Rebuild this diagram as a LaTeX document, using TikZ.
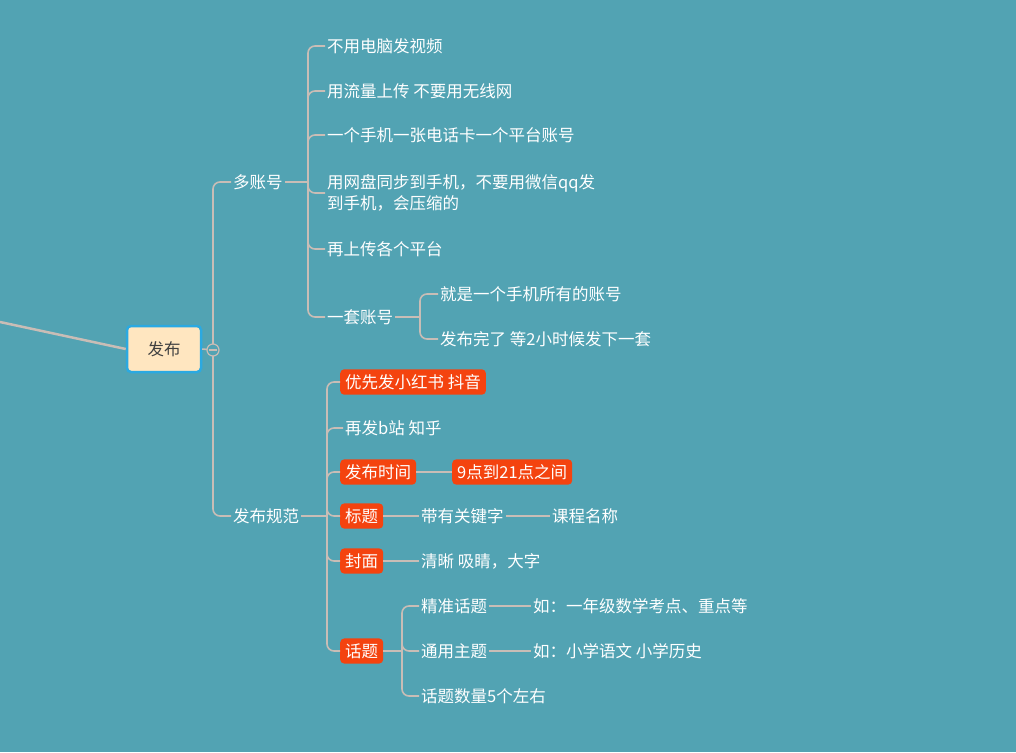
\documentclass[tikz,border=0pt]{standalone}
\usepackage{fontspec}
\setmainfont{Noto Sans CJK SC}
\definecolor{bg}{HTML}{52A3B3}
\definecolor{ln}{HTML}{C9BDB6}
\definecolor{org}{HTML}{F4430F}
\definecolor{rootf}{HTML}{FFE6C0}
\definecolor{rootb}{HTML}{2BA9E1}
\begin{document}
\begin{tikzpicture}[x=1pt,y=-1pt,
 txt/.style={anchor=west,text=white,inner sep=2pt,font=\fontsize{16.5}{21}\selectfont,align=left},
 obox/.style={txt,fill=org,rounded corners=4pt,inner sep=5pt},
 conn/.style={draw=ln,line width=1.6pt,rounded corners=7pt}]
\fill[bg] (0,0) rectangle (1016,752);
\useasboundingbox (0,0) rectangle (1016,752);
% root
\node[draw=rootb,line width=2.5pt,fill=rootf,rounded corners=4pt,minimum width=74,minimum height=46,font=\fontsize{16.5}{20}\selectfont,text=black!75] (root) at (164,349) {发布};
\coordinate (in) at (0,322);
\draw[ln,line width=2.5pt] (in) -- (root.west);
\coordinate (hub) at (213,350);
\draw[conn] (root.east) -- (hub);
% level 1
\node[txt] (a) at (231,182) {多账号};
\node[txt] (b) at (231,516) {发布规范};
\draw[conn] (hub) |- (a.west);
\draw[conn] (hub) |- (b.west);
\draw[ln,line width=1.2pt,fill=bg] (hub) circle (6);
\draw[ln,line width=1.2pt] (209,350) -- (217,350);
% 多账号 children
\coordinate (ba) at (308,182);
\draw[conn] (a.east) -- (ba);
\node[txt] (a1) at (325,46) {不用电脑发视频};
\node[txt] (a2) at (325,91) {用流量上传 不要用无线网};
\node[txt] (a3) at (325,135) {一个手机一张电话卡一个平台账号};
\node[txt] (a4) at (325,193) {用网盘同步到手机，不要用微信qq发\\到手机，会压缩的};
\node[txt] (a5) at (325,249) {再上传各个平台};
\node[txt] (a6) at (325,317) {一套账号};
\foreach \c in {a1,a2,a3,a4,a5,a6} \draw[conn] (ba) |- (\c.west);
\coordinate (bb) at (420,317);
\draw[conn] (a6.east) -- (bb);
\node[txt] (a61) at (438,294) {就是一个手机所有的账号};
\node[txt] (a62) at (438,339) {发布完了 等2小时候发下一套};
\draw[conn] (bb) |- (a61.west);
\draw[conn] (bb) |- (a62.west);
% 发布规范 children
\coordinate (bc) at (327,516);
\draw[conn] (b.east) -- (bc);
\node[obox] (b1) at (340,382) {优先发小红书 抖音};
\node[txt] (b2) at (343,428) {再发b站 知乎};
\node[obox] (b3) at (340,472) {发布时间};
\node[obox] (b4) at (340,516) {标题};
\node[obox] (b5) at (340,561) {封面};
\node[obox] (b6) at (340,651) {话题};
\foreach \c in {b1,b2,b3,b4,b5,b6} \draw[conn] (bc) |- (\c.west);
\node[obox] (b31) at (452,472) {9点到21点之间};
\draw[conn] (b3.east) -- (b31.west);
\node[txt] (b41) at (419,516) {带有关键字};
\node[txt] (b42) at (550,516) {课程名称};
\draw[conn] (b4.east) -- (b41.west);
\draw[conn] (b41.east) -- (b42.west);
\node[txt] (b51) at (419,561) {清晰 吸睛，大字};
\draw[conn] (b5.east) -- (b51.west);
\coordinate (bd) at (402,651);
\draw[conn] (b6.east) -- (bd);
\node[txt] (b61) at (419,606) {精准话题};
\node[txt] (b62) at (419,651) {通用主题};
\node[txt] (b63) at (419,696) {话题数量5个左右};
\foreach \c in {b61,b62,b63} \draw[conn] (bd) |- (\c.west);
\node[txt] (b611) at (531,606) {如：一年级数学考点、重点等};
\node[txt] (b621) at (531,651) {如：小学语文 小学历史};
\draw[conn] (b61.east) -- (b611.west);
\draw[conn] (b62.east) -- (b621.west);
\end{tikzpicture}
\end{document}
